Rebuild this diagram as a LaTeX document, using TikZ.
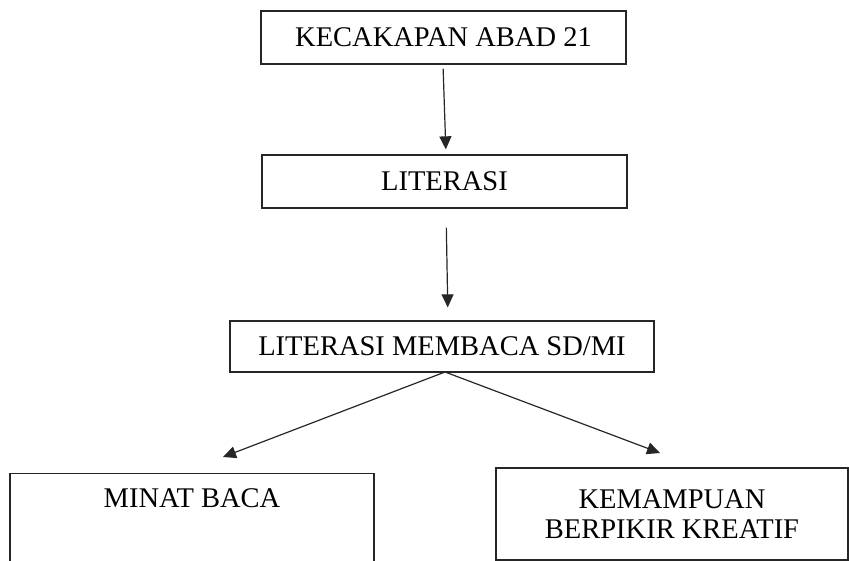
\documentclass[tikz,border=0pt]{standalone}
\usepackage{fontspec}
\setmainfont{Liberation Serif}
\usetikzlibrary{arrows.meta}
\begin{document}
\begin{tikzpicture}[x=1pt,y=-1pt,
  box/.style={draw=black!85,line width=1.3pt,inner sep=0pt,font=\fontsize{28.5}{30}\selectfont,align=center},
  conn/.style={draw=black!85,line width=1.2pt,-{Triangle[length=13pt,width=12pt]}}]
\useasboundingbox (0,0) rectangle (849,561);
\clip (0,0) rectangle (849,561);
\node[box,minimum width=365pt,minimum height=53pt] (b1) at (443.5,37.5) {KECAKAPAN ABAD 21};
\node[box,minimum width=365pt,minimum height=53pt] (b2) at (444.5,181.5) {LITERASI};
\node[box,minimum width=424pt,minimum height=51pt] (b3) at (442,346.5) {LITERASI MEMBACA SD/MI};
\node[box,minimum width=364pt,anchor=north,text height=19pt,text depth=100pt,inner ysep=15pt] (b4) at (192,473) {MINAT BACA};
\node[box,minimum width=352pt,minimum height=92pt] (b5) at (672,514) {KEMAMPUAN\\BERPIKIR KREATIF};
\coordinate (s3) at (445,372);
\coordinate (t4) at (223,457);
\coordinate (t5) at (660,453);
\draw[conn,shorten <=4pt,shorten >=5pt] ([xshift=-0.5pt]b1.south) -- ([xshift=1.5pt]b2.north);
\draw[conn,shorten <=19pt,shorten >=13pt] ([xshift=1.5pt]b2.south) -- ([xshift=6pt]b3.north);
\draw[conn] (s3) -- (t4);
\draw[conn] (s3) -- (t5);
\end{tikzpicture}
\end{document}
